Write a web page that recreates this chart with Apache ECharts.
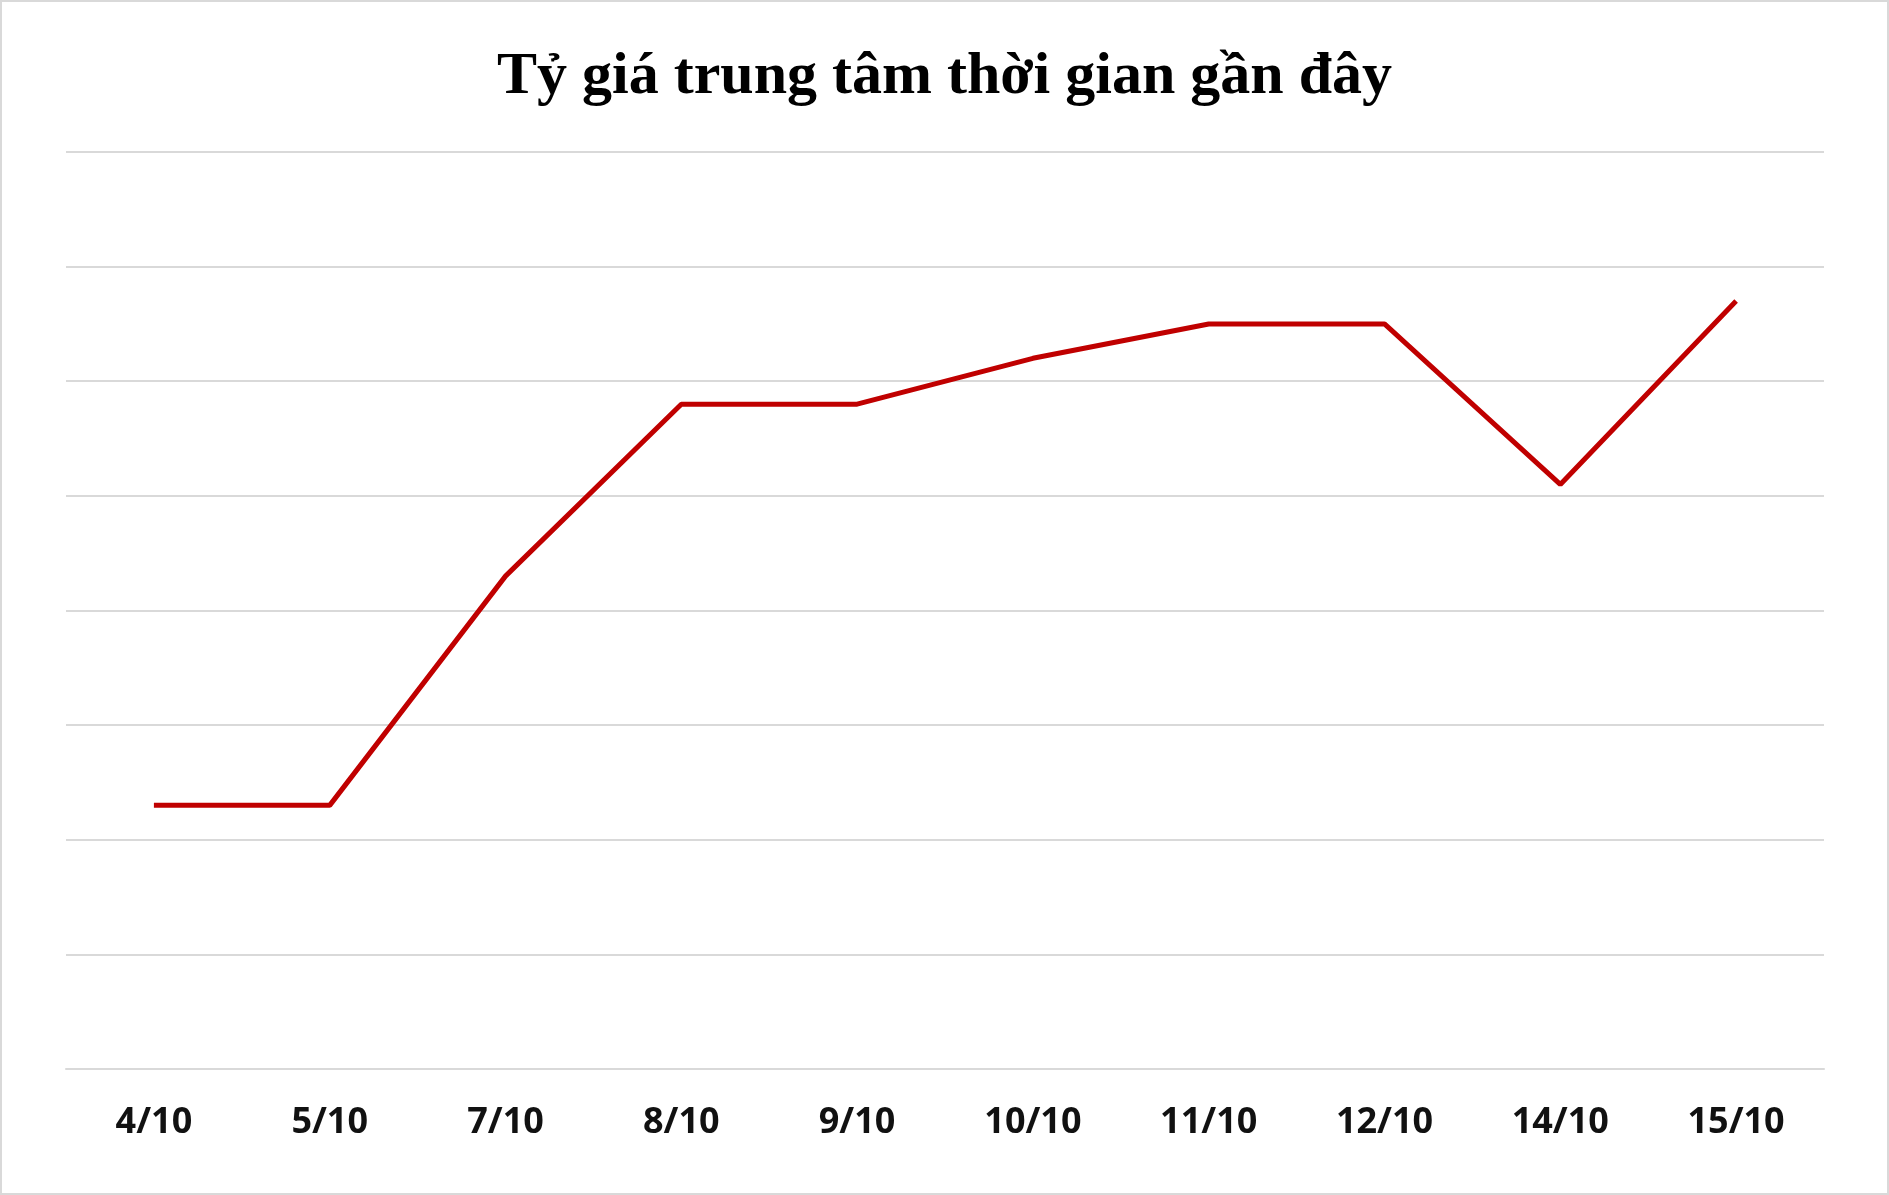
<!DOCTYPE html>
<html><head><meta charset="utf-8">
<script src="https://cdn.jsdelivr.net/npm/echarts@6/dist/echarts.min.js"></script>
<style>html,body{margin:0;padding:0;background:#fff}#c{width:1889px;height:1195px;box-sizing:border-box;border:2px solid #d9d9d9}</style>
</head><body><div id="c"></div>
<script>
const categories = ['4/10','5/10','7/10','8/10','9/10','10/10','11/10','12/10','14/10','15/10'];
const values = [24.133,24.133,24.153,24.168,24.168,24.172,24.175,24.175,24.161,24.177];
const titleText = 'Tỷ giá trung tâm thời gian gần đây';
const chart = echarts.init(document.getElementById('c'));
chart.setOption({
  animation:false,
  title:{text:titleText,left:'center',top:40,textStyle:{fontFamily:'Liberation Serif',fontWeight:'bold',fontSize:60,color:'#000'}},
  grid:{left:64,right:63,top:150,bottom:124},
  xAxis:{type:'category',data:categories,boundaryGap:true,
    axisLine:{lineStyle:{color:'#d9d9d9',width:2}},axisTick:{show:false},
    axisLabel:{margin:36,fontFamily:'Open Sans',fontWeight:'bold',fontSize:36,color:'#111'}},
  yAxis:{type:'value',min:24.11,max:24.19,interval:0.01,axisLabel:{show:false},
    axisLine:{show:false},axisTick:{show:false},splitLine:{lineStyle:{color:'#d9d9d9',width:2}}},
  series:[{type:'line',data:values,symbol:'circle',symbolSize:2,showSymbol:true,
    itemStyle:{opacity:0},lineStyle:{color:'#c00000',width:5},
    label:{show:true,position:'inside',formatter:p=>p.value.toFixed(3),
      fontFamily:'Open Sans',fontWeight:'bold',fontSize:31,color:'#fff',
      padding:[5,6,5,6],
      backgroundColor:new echarts.graphic.LinearGradient(0,0,1,1,[{offset:0,color:'#2c5286'},{offset:1,color:'#7aa6dc'}]),
      shadowColor:'rgba(0,0,0,0.35)',shadowBlur:6,shadowOffsetX:3,shadowOffsetY:3}}]
});
</script></body></html>
